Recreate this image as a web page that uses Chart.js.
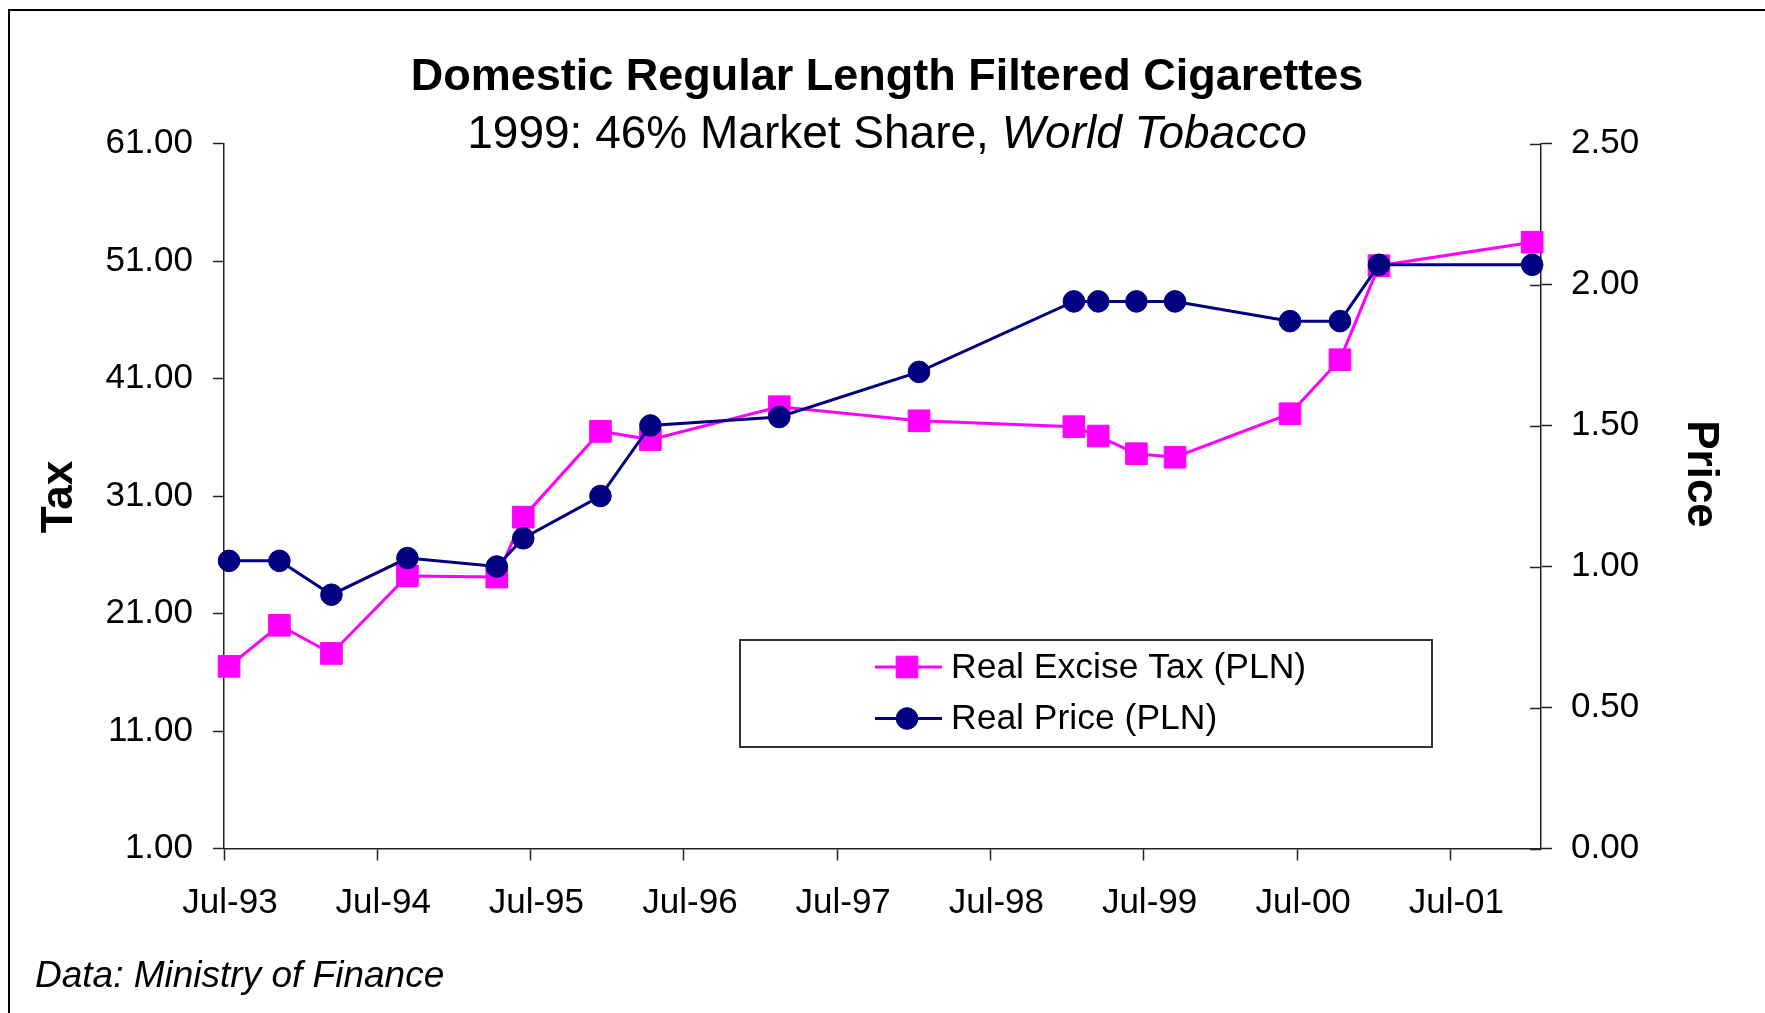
<!DOCTYPE html>
<html>
<head>
<meta charset="utf-8">
<title>Domestic Regular Length Filtered Cigarettes</title>
<script src="https://cdn.jsdelivr.net/npm/chart.js@4.4.1/dist/chart.umd.min.js"></script>
<style>
  html, body { margin: 0; padding: 0; background: #fff; }
  #chart { display: block; }
</style>
</head>
<body>
<canvas id="chart" width="1765" height="1013"></canvas>
<script>
const obsDates = ['1993-07-13', '1993-11-10', '1994-03-14', '1994-09-11', '1995-04-12', '1995-06-14',
    '1995-12-15', '1996-04-12', '1997-02-13', '1998-01-12', '1999-01-16', '1999-03-15',
    '1999-06-14', '1999-09-14', '2000-06-14', '2000-10-11', '2001-01-12', '2002-01-12'];

// real excise tax (PLN) - left axis
const taxValues = [16.5, 20.0, 17.6, 24.2, 24.1, 29.2, 36.5, 35.8, 38.6, 37.4, 36.9, 36.1,
    34.6, 34.3, 38.0, 42.6, 50.6, 52.6];

// real price (PLN) - right axis
const priceValues = [1.02, 1.02, 0.90, 1.03, 1.00, 1.10, 1.25, 1.50, 1.53, 1.69, 1.94, 1.94,
    1.94, 1.94, 1.87, 1.87, 2.07, 2.07];

const seriesLabels = ['Real Excise Tax (PLN)', 'Real Price (PLN)'];

// axes
const xTickDates = ['1993-07-01', '1994-07-01', '1995-07-01', '1996-07-01', '1997-07-01',
    '1998-07-01', '1999-07-01', '2000-07-01', '2001-07-01'];
const xTickLabels = ['Jul-93', 'Jul-94', 'Jul-95', 'Jul-96', 'Jul-97', 'Jul-98', 'Jul-99', 'Jul-00', 'Jul-01'];
const xRange = ['1993-07-01', '2002-02-02'];
const taxTicks = [1, 11, 21, 31, 41, 51, 61];
const priceTicks = [0, 0.5, 1.0, 1.5, 2.0, 2.5];

const titleText = 'Domestic Regular Length Filtered Cigarettes';
const subtitleText = '1999: 46% Market Share, ';
const subtitleItalic = 'World Tobacco';
const leftAxisTitle = 'Tax';
const rightAxisTitle = 'Price';
const sourceText = 'Data: Ministry of Finance';

const FONT = "'Liberation Sans', Arial, sans-serif";
const dayNum = s => Date.parse(s + 'T00:00:00Z') / 86400000;

const taxPoints = obsDates.map((d, i) => ({ x: dayNum(d), y: taxValues[i] }));
const pricePoints = obsDates.map((d, i) => ({ x: dayNum(d), y: priceValues[i] }));

// titles, frame, legend box, right axis cross ticks, footnote
const chrome = {
    id: 'chrome',
    beforeDraw(chart) {
        const ctx = chart.ctx;
        ctx.save();
        ctx.fillStyle = '#fff';
        ctx.fillRect(0, 0, chart.width, chart.height);
        ctx.strokeStyle = '#000';
        ctx.lineWidth = 2;
        ctx.strokeRect(9, 10, chart.width + 20, chart.height + 20);
        ctx.restore();
    },
    afterDraw(chart) {
        const ctx = chart.ctx;
        ctx.save();
        ctx.fillStyle = '#000';

        // title + subtitle
        const cx = 887;
        ctx.textAlign = 'center';
        ctx.textBaseline = 'alphabetic';
        ctx.font = `bold 45px ${FONT}`;
        ctx.fillText(titleText, cx, 90);
        ctx.font = `46px ${FONT}`;
        const w1 = ctx.measureText(subtitleText).width;
        ctx.font = `italic 46px ${FONT}`;
        const w2 = ctx.measureText(subtitleItalic).width;
        const sx = cx - (w1 + w2) / 2;
        ctx.textAlign = 'left';
        ctx.font = `46px ${FONT}`;
        ctx.fillText(subtitleText, sx, 148);
        ctx.font = `italic 46px ${FONT}`;
        ctx.fillText(subtitleItalic, sx + w1, 148);

        // axis titles
        ctx.font = `bold 44px ${FONT}`;
        ctx.textAlign = 'center';
        ctx.textBaseline = 'middle';
        ctx.save();
        ctx.translate(60, 497);
        ctx.rotate(-Math.PI / 2);
        ctx.fillText(leftAxisTitle, 0, 0);
        ctx.restore();
        ctx.save();
        ctx.translate(1700, 474);
        ctx.rotate(Math.PI / 2);
        ctx.fillText(rightAxisTitle, 0, 0);
        ctx.restore();

        // right axis ticks cross the axis line
        const y1 = chart.scales.y1;
        ctx.strokeStyle = '#222';
        ctx.lineWidth = 1.5;
        y1.ticks.forEach(t => {
            const py = Math.round(y1.getPixelForValue(t.value)) + 0.5;
            ctx.beginPath();
            ctx.moveTo(y1.left - 11, py);
            ctx.lineTo(y1.left, py);
            ctx.stroke();
        });

        // legend
        const box = { x: 740, y: 640, w: 692, h: 107 };
        ctx.fillStyle = '#fff';
        ctx.fillRect(box.x, box.y, box.w, box.h);
        ctx.strokeStyle = '#333';
        ctx.lineWidth = 2;
        ctx.strokeRect(box.x, box.y, box.w, box.h);
        chart.data.datasets.forEach((ds, i) => {
            const ry = 667 + i * 51.5;
            ctx.strokeStyle = ds.borderColor;
            ctx.lineWidth = ds.borderWidth;
            ctx.beginPath();
            ctx.moveTo(875, ry);
            ctx.lineTo(942, ry);
            ctx.stroke();
            ctx.fillStyle = ds.pointBackgroundColor;
            ctx.strokeStyle = ds.pointBorderColor;
            ctx.lineWidth = ds.pointBorderWidth;
            Chart.helpers.drawPoint(ctx, { pointStyle: ds.pointStyle, radius: ds.pointRadius, borderWidth: ds.pointBorderWidth }, 907, ry);
            ctx.fillStyle = '#000';
            ctx.font = `35.5px ${FONT}`;
            ctx.textAlign = 'left';
            ctx.textBaseline = 'middle';
            ctx.fillText(ds.label, 951, ry + 1);
        });

        // source note
        ctx.fillStyle = '#000';
        ctx.font = `italic 37px ${FONT}`;
        ctx.textAlign = 'left';
        ctx.textBaseline = 'alphabetic';
        ctx.fillText(sourceText, 35, 987);
        ctx.restore();
    }
};

const axisGrid = { display: true, drawOnChartArea: false, drawTicks: true, tickLength: 11, tickColor: '#222', tickWidth: 1.5 };
const axisBorder = { display: true, color: '#222', width: 1.5 };
const tickFont = { family: FONT, size: 35 };

new Chart(document.getElementById('chart'), {
    type: 'line',
    data: {
        datasets: [
            {
                label: seriesLabels[0], data: taxPoints, yAxisID: 'y', order: 1,
                borderColor: '#FF00FF', borderWidth: 3, tension: 0,
                pointStyle: 'rect', pointRadius: 15.3, pointBackgroundColor: '#FF00FF',
                pointBorderColor: '#FF00FF', pointBorderWidth: 1, clip: false
            },
            {
                label: seriesLabels[1], data: pricePoints, yAxisID: 'y1', order: 0,
                borderColor: '#000080', borderWidth: 3, tension: 0,
                pointStyle: 'circle', pointRadius: 10.8, pointBackgroundColor: '#000080',
                pointBorderColor: '#000080', pointBorderWidth: 1, clip: false
            }
        ]
    },
    options: {
        responsive: false, animation: false, devicePixelRatio: 1,
        layout: { padding: { top: 143.5, left: 0, right: 0, bottom: 0 } },
        plugins: { legend: { display: false }, tooltip: { enabled: false }, title: { display: false } },
        scales: {
            x: {
                type: 'linear', position: 'bottom',
                min: dayNum(xRange[0]), max: dayNum(xRange[1]),
                grid: { ...axisGrid, tickLength: 12 }, border: axisBorder,
                afterBuildTicks: s => { s.ticks = xTickDates.map(d => ({ value: dayNum(d) })); },
                afterFit: s => { s.height = 164.5; },
                ticks: {
                    autoSkip: false, maxRotation: 0, color: '#000', font: tickFont, padding: 22, labelOffset: 6,
                    callback: (v, i) => xTickLabels[i]
                }
            },
            y: {
                type: 'linear', position: 'left', min: taxTicks[0], max: taxTicks[taxTicks.length - 1],
                grid: axisGrid, border: axisBorder,
                afterBuildTicks: s => { s.ticks = taxTicks.map(v => ({ value: v })); },
                afterFit: s => { s.width = 224; },
                ticks: { color: '#000', font: tickFont, padding: 20, callback: v => v.toFixed(2) }
            },
            y1: {
                type: 'linear', position: 'right', min: priceTicks[0], max: priceTicks[priceTicks.length - 1],
                grid: axisGrid, border: axisBorder,
                afterBuildTicks: s => { s.ticks = priceTicks.map(v => ({ value: v })); },
                afterFit: s => { s.width = 224; },
                ticks: { color: '#000', font: tickFont, padding: 19, callback: v => v.toFixed(2) }
            }
        }
    },
    plugins: [chrome]
});
</script>
</body>
</html>
